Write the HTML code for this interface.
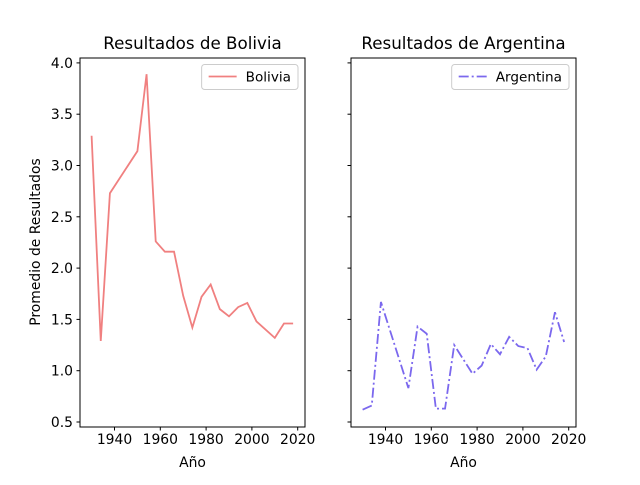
<!DOCTYPE html>
<html><head><meta charset="utf-8"><style>body{margin:0;background:#fff}text{font-family:"DejaVu Sans","Liberation Sans",sans-serif;fill:#000}</style></head>
<body>
<svg id="c" width="640" height="480" xmlns="http://www.w3.org/2000/svg"></svg>
<script>
const years = [1930,1934,1938,1950,1954,1958,1962,1966,1970,1974,1978,1982,1986,1990,1994,1998,2002,2006,2010,2014,2018];
const boliviaYears = [1930,1934,1938,1950,1954,1958,1962,1966,1970,1974,1978,1982,1986,1990,1994,1998,2002,2010,2014,2018];
const boliviaValues = [3.29,1.29,2.73,3.14,3.89,2.26,2.16,2.16,1.73,1.42,1.72,1.84,1.60,1.53,1.62,1.66,1.48,1.32,1.46,1.46];
const argentinaYears = years;
const argentinaValues = [0.62,0.66,1.67,0.83,1.43,1.36,0.63,0.63,1.25,1.11,0.97,1.05,1.26,1.16,1.33,1.24,1.22,1.01,1.14,1.57,1.28];
const xTicks = [1940,1960,1980,2000,2020];
const yTicks = [0.5,1.0,1.5,2.0,2.5,3.0,3.5,4.0];
const NS="http://www.w3.org/2000/svg", svg=document.getElementById('c');
function mk(t,a,p){const e=document.createElementNS(NS,t);for(const k in a)e.setAttribute(k,a[k]);(p||svg).appendChild(e);return e;}
const yS=v=>422-(v-0.5)*102.6;
function panel(left,title,xs,vs,color,dash,name,label){
  const xS=y=>left+34.5+(y-1940)*2.29;
  const g=mk('g',{});
  
  
  const fr=mk('rect',{x:left,y:58,width:225,height:369,fill:'none',stroke:'#000','stroke-width':1},g);
  
  
  xTicks.forEach(t=>{const x=xS(t);mk('line',{x1:x,x2:x,y1:427,y2:430.5,stroke:'#000'},g);
    const tx=mk('text',{x:x,y:444,'font-size':'13.9','text-anchor':'middle'},g);tx.textContent=t;
    
    });
  yTicks.forEach(t=>{const y=yS(t);mk('line',{x1:left-3.5,x2:left,y1:y,y2:y,stroke:'#000'},g);
    if(left<200){const tx=mk('text',{x:left-7,y:y+5,'font-size':'13.9','text-anchor':'end'},g);tx.textContent=t.toFixed(1);
    
    }});
  const pts=xs.map((y,i)=>xS(y)+','+yS(vs[i])).join(' ');
  const ln=mk('polyline',{points:pts,fill:'none',stroke:color,'stroke-width':1.8,'stroke-dasharray':dash},g);
  
  
  const ti=mk('text',{x:left+112.5,y:49,'font-size':'16.7','text-anchor':'middle'},g);ti.textContent='Resultados de '+label;
  
  
  const xl=mk('text',{x:left+112.5,y:467,'font-size':'13.9','text-anchor':'middle'},g);xl.textContent='Año';
  
  
  const lg=mk('g',{},g);
  
  
  const box=mk('rect',{y:64.5,height:25,rx:3,fill:'#fff',stroke:'#ccc'},lg);
  const ll=mk('line',{y1:76.5,y2:76.5,stroke:color,'stroke-width':1.8,'stroke-dasharray':dash},lg);
  const lt=mk('text',{y:81.5,'font-size':'13.6'},lg);lt.textContent=label;
  const tw=lt.getComputedTextLength();
  const lw=tw+51, lx=left+218-lw;
  box.setAttribute('x',lx);box.setAttribute('width',lw);
  ll.setAttribute('x1',lx+7);ll.setAttribute('x2',lx+35);
  lt.setAttribute('x',lx+44);
}
panel(80,'Bolivia',boliviaYears,boliviaValues,'#f08080','','bolivia','Bolivia');
panel(351,'Argentina',argentinaYears,argentinaValues,'#7b68ee','10,3,2,3','argentina','Argentina');
const yl=mk('text',{x:40,y:242,'font-size':'13.9','text-anchor':'middle',transform:'rotate(-90 40 242)'});
yl.textContent='Promedio de Resultados';


</script>
</body></html>
